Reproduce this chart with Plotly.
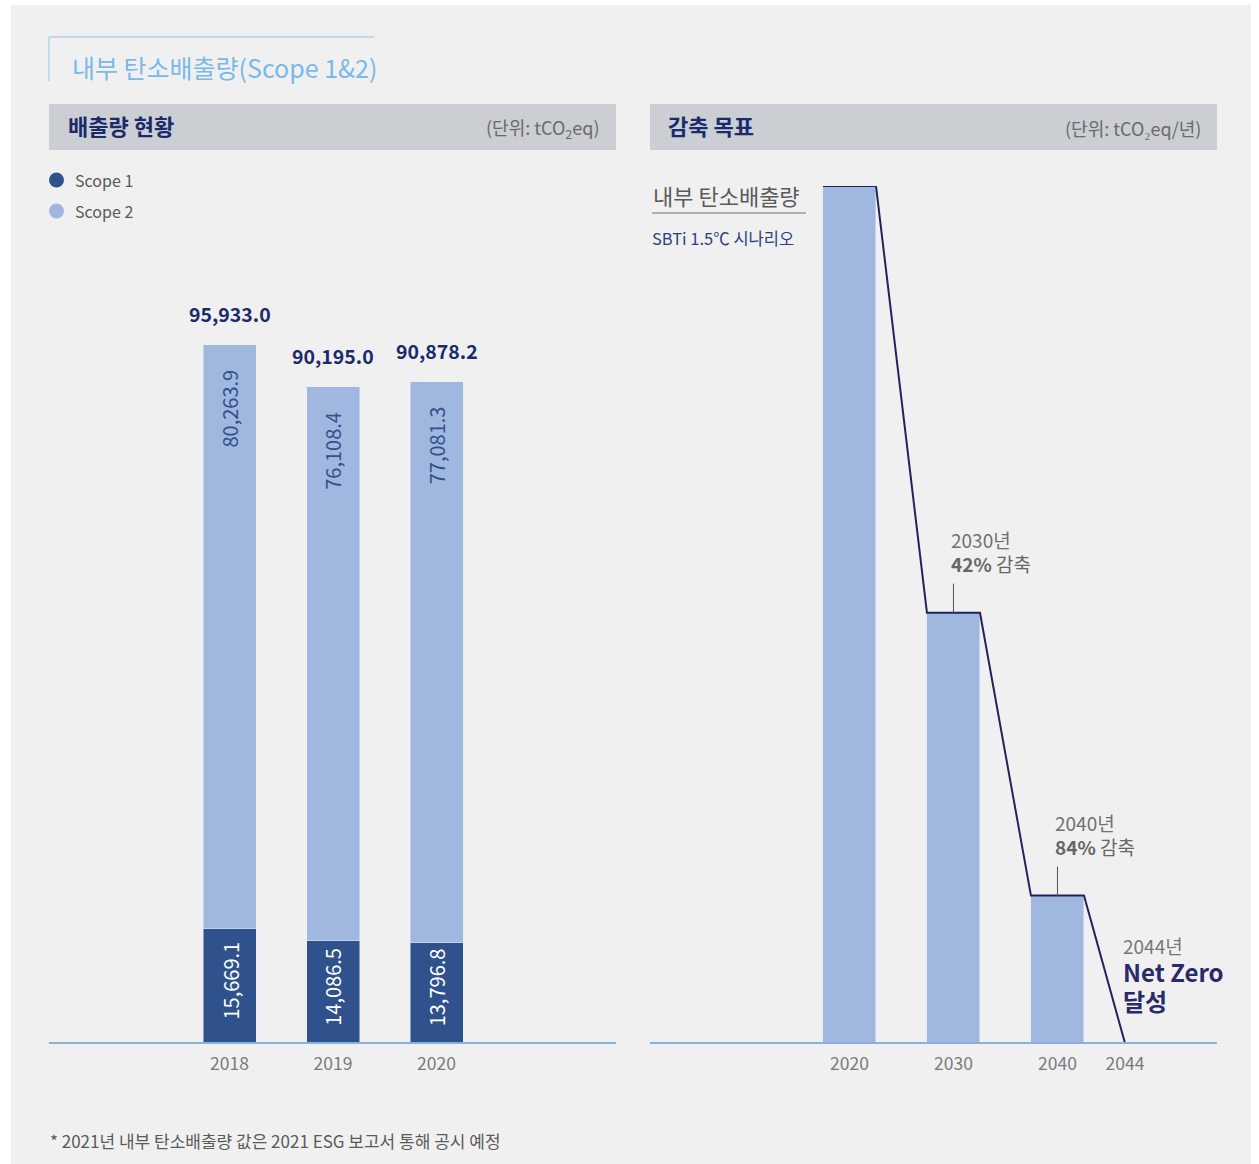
import plotly.graph_objects as go

# ---------------- data ----------------
years = ["2018", "2019", "2020"]
scope1 = [15669.1, 14086.5, 13796.8]
scope2 = [80263.9, 76108.4, 77081.3]
totals = [95933.0, 90195.0, 90878.2]

target_labels = ["2020", "2030", "2040"]
target_values = [100.0, 50.2, 17.2]          # relative drawn height (index)
netzero_label = "2044"
netzero_value = 0.0

W, H = 1259, 1164
FONT = "Noto Sans CJK KR"
C_S1 = "#30528c"
C_S2 = "#a0b8df"
NAVY = "#1b2a6b"
GRAY = "#5a5a5a"
LINE = "#22225c"
BASE = "#8ab0dc"


def px(x):
    return x / W


def py(y):
    return 1 - y / H


fig = go.Figure()

# ---------------- left chart ----------------
xpos = list(range(len(years)))
fig.add_trace(go.Bar(x=xpos, y=scope1, marker_color=C_S1, width=0.512,
                     name="Scope 1", xaxis="x", yaxis="y", showlegend=False,
                     hoverinfo="skip"))
fig.add_trace(go.Bar(x=xpos, y=scope2, marker_color=C_S2, width=0.512,
                     name="Scope 2", xaxis="x", yaxis="y", showlegend=False,
                     hoverinfo="skip"))

# ---------------- right chart ----------------
tpos = list(range(len(target_labels)))
nz_pos = 2.649
bw = 0.51
fig.add_trace(go.Bar(x=tpos, y=target_values, marker_color=C_S2, width=bw,
                     xaxis="x2", yaxis="y2", showlegend=False, hoverinfo="skip"))
lx, ly = [], []
for p, v in zip(tpos, target_values):
    lx += [p - bw / 2, p + bw / 2]
    ly += [v, v]
lx.append(nz_pos)
ly.append(netzero_value)
fig.add_trace(go.Scatter(x=lx, y=ly, mode="lines",
                         line=dict(color=LINE, width=2),
                         xaxis="x2", yaxis="y2", showlegend=False,
                         hoverinfo="skip"))

ymax1 = 120000
ymax2 = 100.0
tick_common = dict(showgrid=False, zeroline=False, showline=False,
                   ticks="outside", ticklen=5, tickcolor="rgba(0,0,0,0)",
                   tickfont=dict(size=17.5, color="#7a7a7a"), fixedrange=True)
fig.update_layout(
    width=W, height=H,
    margin=dict(l=0, r=0, t=0, b=0),
    paper_bgcolor="white", plot_bgcolor="rgba(0,0,0,0)",
    barmode="stack",
    font=dict(family=FONT, color=GRAY),
    xaxis=dict(domain=[px(49), px(616)], range=[-1.744, 3.734],
               tickvals=xpos, ticktext=years, **tick_common),
    yaxis=dict(domain=[py(1043), py(1043 - ymax1 * 0.007276)],
               range=[0, ymax1], visible=False, fixedrange=True),
    xaxis2=dict(domain=[px(650), px(1217)], range=[-1.918, 3.534],
                tickvals=tpos + [nz_pos], ticktext=target_labels + [netzero_label],
                anchor="y2", **tick_common),
    yaxis2=dict(domain=[py(1043), py(186)], range=[0, ymax2], visible=False,
                fixedrange=True, anchor="x2"),
)

shapes = []
ann = []

# background panel
shapes.append(dict(type="rect", xref="paper", yref="paper", x0=px(11), x1=px(1251),
                   y0=py(1164), y1=py(5), fillcolor="#f0f0f0", line_width=0,
                   layer="below"))
# title bracket
shapes.append(dict(type="line", xref="paper", yref="paper", x0=px(49), x1=px(374),
                   y0=py(37), y1=py(37), line=dict(color="#8cc4ee", width=1)))
shapes.append(dict(type="line", xref="paper", yref="paper", x0=px(49), x1=px(49),
                   y0=py(37), y1=py(81), line=dict(color="#8cc4ee", width=1)))
ann.append(dict(xref="paper", yref="paper", x=px(70), y=py(67), xanchor="left",
                yanchor="middle", showarrow=False, text="내부 탄소배출량(Scope 1&2)",
                font=dict(size=25, color="#7ab9ea")))
# header bars
for x0, x1 in [(49, 616), (650, 1217)]:
    shapes.append(dict(type="rect", xref="paper", yref="paper", x0=px(x0), x1=px(x1),
                       y0=py(150), y1=py(104), fillcolor="#cbced2", line_width=0,
                       layer="below"))
ann.append(dict(xref="paper", yref="paper", x=px(66), y=py(125), xanchor="left",
                yanchor="middle", showarrow=False, text="<b>배출량 현황</b>",
                font=dict(size=22, color=NAVY)))
ann.append(dict(xref="paper", yref="paper", x=px(602), y=py(128), xanchor="right",
                yanchor="middle", showarrow=False,
                text="(단위: tCO<sub>2</sub>eq)", font=dict(size=18, color="#6a6a6a")))
ann.append(dict(xref="paper", yref="paper", x=px(666), y=py(125), xanchor="left",
                yanchor="middle", showarrow=False, text="<b>감축 목표</b>",
                font=dict(size=22, color=NAVY)))
ann.append(dict(xref="paper", yref="paper", x=px(1203), y=py(128), xanchor="right",
                yanchor="middle", showarrow=False,
                text="(단위: tCO₂eq/년)", font=dict(size=18, color="#6a6a6a")))

# legend
for i, (nm, col) in enumerate([("Scope 1", C_S1), ("Scope 2", C_S2)]):
    yc = 180 + 31 * i
    shapes.append(dict(type="circle", xref="paper", yref="paper",
                       x0=px(49), x1=px(64), y0=py(yc + 7.5), y1=py(yc - 7.5),
                       fillcolor=col, line_width=0))
    ann.append(dict(xref="paper", yref="paper", x=px(73), y=py(yc), xanchor="left",
                    yanchor="middle", showarrow=False, text=nm,
                    font=dict(size=16, color=GRAY)))

# baselines
for x0, x1 in [(49, 616), (650, 1217)]:
    shapes.append(dict(type="line", xref="paper", yref="paper", x0=px(x0), x1=px(x1),
                       y0=py(1043), y1=py(1043), line=dict(color=BASE, width=2)))

# left chart labels
for p, s1, s2, t in zip(xpos, scope1, scope2, totals):
    ann.append(dict(xref="x", yref="y", x=p, y=t, yanchor="bottom", yshift=15,
                    showarrow=False, text=f"<b>{t:,.1f}</b>",
                    font=dict(size=19.5, color=NAVY)))
    ann.append(dict(xref="x", yref="y", x=p, y=t, yanchor="top", yshift=-23,
                    textangle=-90, showarrow=False, text=f"{s2:,.1f}",
                    font=dict(size=20, color="#34508a")))
    ann.append(dict(xref="x", yref="y", x=p, y=s1 / 2, yanchor="middle", yshift=5,
                    textangle=-90, showarrow=False, text=f"{s1:,.1f}",
                    font=dict(size=20, color="white")))

# right chart annotations
ann.append(dict(xref="paper", yref="paper", x=px(651), y=py(195), xanchor="left",
                yanchor="middle", showarrow=False, text="내부 탄소배출량",
                font=dict(size=22, color=GRAY)))
shapes.append(dict(type="line", xref="paper", yref="paper", x0=px(652), x1=px(806),
                   y0=py(213), y1=py(213), line=dict(color="#9a9a9a", width=1.5)))
ann.append(dict(xref="paper", yref="paper", x=px(650), y=py(238), xanchor="left",
                yanchor="middle", showarrow=False, text="SBTi 1.5℃ 시나리오",
                font=dict(size=16.5, color="#2d3f85")))

notes = {1: ("2030년", "42%"), 2: ("2040년", "84%")}
for idx, (yr, pct) in notes.items():
    v = target_values[idx]
    shapes.append(dict(type="line", xref="x2", yref="y2", x0=idx, x1=idx,
                       y0=v, y1=v + 3.4, line=dict(color="#555555", width=1)))
    ann.append(dict(xref="x2", yref="y2", x=idx, y=v, xanchor="left",
                    yanchor="middle", yshift=73, xshift=-3, showarrow=False,
                    borderpad=0, text=yr, font=dict(size=19, color="#707070")))
    ann.append(dict(xref="x2", yref="y2", x=idx, y=v, xanchor="left",
                    yanchor="middle", yshift=49, xshift=-3, showarrow=False,
                    borderpad=0, text=f"<b>{pct}</b> 감축",
                    font=dict(size=19, color="#666666")))

ann.append(dict(xref="x2", yref="y2", x=nz_pos, y=0, xanchor="left",
                yanchor="middle", yshift=98, xshift=-3, showarrow=False,
                borderpad=0, text="2044년", font=dict(size=19, color="#777777")))
ann.append(dict(xref="x2", yref="y2", x=nz_pos, y=0, xanchor="left",
                yanchor="middle", yshift=72, xshift=-3, showarrow=False,
                borderpad=0, text="<b>Net Zero</b>", font=dict(size=24, color="#2a2a6a")))
ann.append(dict(xref="x2", yref="y2", x=nz_pos, y=0, xanchor="left",
                yanchor="middle", yshift=43, xshift=-3, showarrow=False,
                borderpad=0, text="<b>달성</b>", font=dict(size=24, color="#2a2a6a")))

# footnote
ann.append(dict(xref="paper", yref="paper", x=px(48), y=py(1140), xanchor="left",
                yanchor="middle", showarrow=False,
                text="* 2021년 내부 탄소배출량 값은 2021 ESG 보고서 통해 공시 예정",
                font=dict(size=17, color=GRAY)))

fig.update_layout(shapes=shapes, annotations=ann)
fig.write_html("out.html", config={"displayModeBar": False},
               post_script="document.body.style.margin='0';")
